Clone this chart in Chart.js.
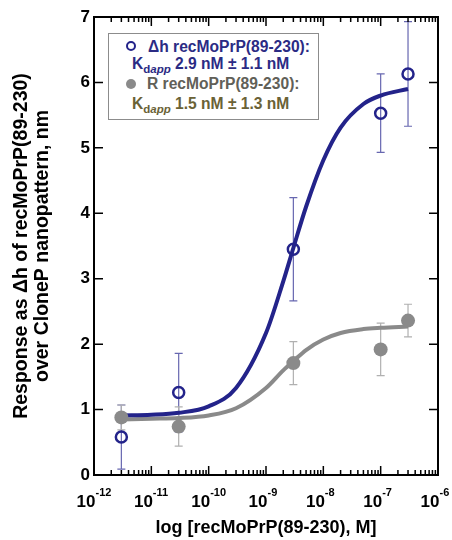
<!doctype html>
<html lang="en">
<head>
<meta charset="utf-8">
<title>recMoPrP(89-230) binding</title>
<script src="https://cdn.jsdelivr.net/npm/chart.js"></script>
<style>
  body { margin: 0; background: #fff; }
  #wrap { position: relative; width: 452px; height: 540px; }
  #legend {
    position: absolute; left: 108px; top: 33px; width: 209px; height: 85px;
    border: 1px solid #8c8c8c; background: #fff;
    font: bold 15.6px "Liberation Sans", Arial, sans-serif;
  }
  .ln { position: absolute; white-space: nowrap; line-height: 18px; }
  .ln sub { font-size: 11.5px; vertical-align: -4px; line-height: 0; }
  .mk { position: absolute; width: 6px; height: 6px; border-radius: 50%; }
  .blue { color: #2b2b84; }
  .grey1 { color: #616058; }
  .grey2 { color: #6a6236; }
</style>
</head>
<body>
<div id="wrap">
  <canvas id="chart" width="452" height="540"></canvas>
  <div id="legend">
    <div class="mk" style="left:17px;top:7px;border:2.5px solid #23238a;"></div>
    <div class="ln blue" style="left:39px;top:4px;">&Delta;h recMoPrP(89-230):</div>
    <div class="ln blue" style="left:23px;top:21px;">K<sub>d<i>app</i></sub> 2.9 nM &plusmn; 1.1 nM</div>
    <div class="mk" style="left:17px;top:45px;width:10px;height:10px;background:#8a8a8a;"></div>
    <div class="ln grey1" style="left:38px;top:41px;">R recMoPrP(89-230):</div>
    <div class="ln grey2" style="left:23px;top:61px;">K<sub>d<i>app</i></sub> 1.5 nM &plusmn; 1.3 nM</div>
  </div>
</div>
<script>
  // measured points (concentration in M)
  const conc = [3e-12, 3e-11, 3e-9, 1e-7, 3e-7];
  const dhMean = [0.58, 1.26, 3.45, 5.53, 6.13];
  const dhErr = [0.49, 0.6, 0.79, 0.6, 0.8];
  const rMean = [0.88, 0.74, 1.71, 1.92, 2.36];
  const rErr = [0.19, 0.3, 0.33, 0.4, 0.25];

  // fitted curves
  const fitConc = [3e-12, 1e-11, 3e-11, 1e-10, 3e-10, 1e-9, 2e-9, 3e-9, 5e-9, 1e-8, 2e-8, 5e-8, 1e-7, 3e-7];
  const dhFit = [0.91, 0.92, 0.95, 1.05, 1.33, 2.17, 2.96, 3.47, 4.1, 4.81, 5.31, 5.67, 5.8, 5.9];
  const rFit = [0.85, 0.86, 0.87, 0.91, 1.02, 1.33, 1.6, 1.74, 1.91, 2.07, 2.17, 2.23, 2.25, 2.27];

  const yTicks = [0, 1, 2, 3, 4, 5, 6, 7];
  const xDecades = [-12, -11, -10, -9, -8, -7, -6];

  const BLUE = '#23238a';
  const GREY = '#8a8a8a';
  const FONT = '"Liberation Sans", Arial, sans-serif';

  const pts = (xs, ys) => xs.map((x, i) => ({ x: x, y: ys[i] }));

  const errorBars = {
    id: 'errorBars',
    beforeDatasetsDraw(chart) {
      const c = chart.ctx, xs = chart.scales.x, ys = chart.scales.y;
      const sets = [[dhMean, dhErr, '#6767b0'], [rMean, rErr, '#b0b0b0']];
      c.save();
      c.lineWidth = 1.2;
      sets.forEach(([m, e, col]) => {
        c.strokeStyle = col;
        conc.forEach((x, i) => {
          const px = xs.getPixelForValue(x);
          const top = ys.getPixelForValue(m[i] + e[i]);
          const bot = ys.getPixelForValue(m[i] - e[i]);
          c.beginPath();
          c.moveTo(px, top); c.lineTo(px, bot);
          c.moveTo(px - 4, top); c.lineTo(px + 4, top);
          c.moveTo(px - 4, bot); c.lineTo(px + 4, bot);
          c.stroke();
        });
      });
      c.restore();
    }
  };

  const frame = {
    id: 'frame',
    afterDraw(chart) {
      const c = chart.ctx, a = chart.chartArea, xs = chart.scales.x, ys = chart.scales.y;
      c.save();
      c.strokeStyle = '#000';
      c.lineWidth = 2;
      c.strokeRect(a.left, a.top, a.right - a.left, a.bottom - a.top);

      c.lineWidth = 1.5;
      c.beginPath();
      yTicks.forEach(v => {
        const py = ys.getPixelForValue(v);
        c.moveTo(a.left, py); c.lineTo(a.left + 9, py);
        c.moveTo(a.right, py); c.lineTo(a.right - 9, py);
      });
      xDecades.forEach(d => {
        for (let k = 1; k <= 9; k++) {
          const v = k * Math.pow(10, d);
          if (v > 1e-6 * 1.0001) break;
          const px = xs.getPixelForValue(v);
          const len = k === 1 ? 9 : 5;
          c.moveTo(px, a.bottom); c.lineTo(px, a.bottom - len);
          c.moveTo(px, a.top); c.lineTo(px, a.top + len);
        }
      });
      c.stroke();

      // x tick labels 10^n
      c.fillStyle = '#000';
      c.textBaseline = 'alphabetic';
      xDecades.forEach(d => {
        const px = xs.getPixelForValue(Math.pow(10, d));
        c.font = 'bold 17px ' + FONT;
        c.textAlign = 'right';
        c.fillText('10', px + 1.5, 507);
        c.font = 'bold 11px ' + FONT;
        c.textAlign = 'left';
        c.fillText(String(d), px + 1.5, 496);
      });

      // axis titles
      c.font = 'bold 18px ' + FONT;
      c.textAlign = 'center';
      c.textBaseline = 'middle';
      c.fillText('log [recMoPrP(89-230), M]', (a.left + a.right) / 2, 528);

      c.translate(0, (a.top + a.bottom) / 2);
      c.rotate(-Math.PI / 2);
      c.font = 'bold 19.5px ' + FONT;
      c.textBaseline = 'alphabetic';
      c.fillText('Response as \u0394h of recMoPrP(89-230)', 0, 27);
      c.fillText('over CloneP nanopattern, nm', 0, 48);
      c.restore();
    }
  };

  const ctx = document.getElementById('chart').getContext('2d');
  new Chart(ctx, {
    type: 'scatter',
    data: {
      datasets: [
        {
          label: 'R fit', type: 'line', data: pts(fitConc, rFit),
          borderColor: GREY, borderWidth: 4, pointRadius: 0,
          cubicInterpolationMode: 'monotone', order: 4
        },
        {
          label: '\u0394h fit', type: 'line', data: pts(fitConc, dhFit),
          borderColor: BLUE, borderWidth: 4, pointRadius: 0,
          cubicInterpolationMode: 'monotone', order: 3
        },
        {
          label: '\u0394h recMoPrP(89-230)', data: pts(conc, dhMean),
          pointRadius: 5.5, pointBorderWidth: 2.5,
          borderColor: BLUE, backgroundColor: 'rgba(255,255,255,0)', order: 2
        },
        {
          label: 'R recMoPrP(89-230)', data: pts(conc, rMean),
          pointRadius: 7, pointBorderWidth: 0,
          borderColor: GREY, backgroundColor: GREY, order: 1
        }
      ]
    },
    options: {
      responsive: false,
      animation: false,
      layout: { padding: { top: 17, right: 14, left: 0, bottom: 0 } },
      plugins: { legend: { display: false }, tooltip: { enabled: false } },
      scales: {
        x: {
          type: 'logarithmic', min: 1e-12, max: 1e-6,
          ticks: { display: false },
          grid: { display: false },
          border: { display: false },
          afterFit: s => { s.height = 65; }
        },
        y: {
          min: 0, max: 7,
          ticks: { stepSize: 1, color: '#000', padding: 4, font: { family: FONT, size: 17, weight: 'bold' } },
          grid: { display: false, drawTicks: false },
          border: { display: false },
          afterFit: s => { s.width = 94; }
        }
      }
    },
    plugins: [errorBars, frame]
  });
</script>
</body>
</html>
